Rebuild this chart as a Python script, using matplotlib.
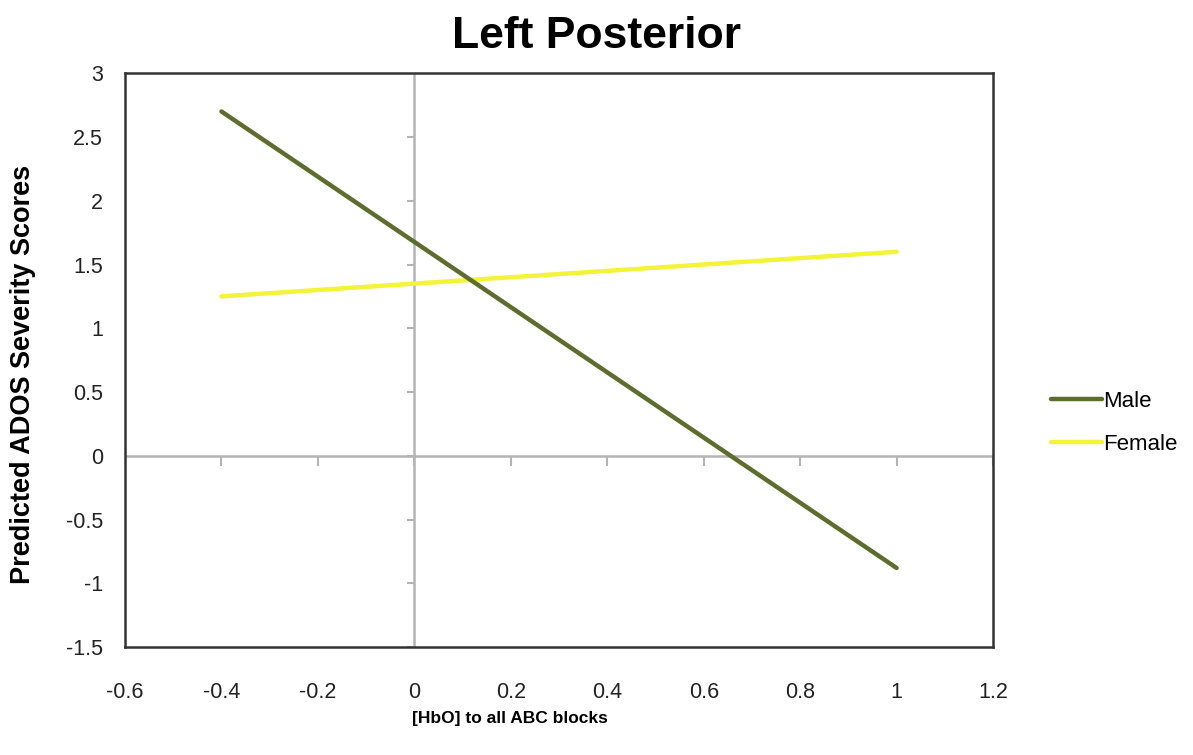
import matplotlib.pyplot as plt

plt.rcParams['font.family'] = ['Liberation Sans', 'DejaVu Sans']

# данные: предсказанные значения по краям диапазона
x_vals = [-0.4, 1.0]
male = [2.70, -0.88]
female = [1.25, 1.60]

x_ticks = [-0.6, -0.4, -0.2, 0, 0.2, 0.4, 0.6, 0.8, 1, 1.2]
x_labels = ['-0.6', '-0.4', '-0.2', '0', '0.2', '0.4', '0.6', '0.8', '1', '1.2']
y_ticks = [-1.5, -1, -0.5, 0, 0.5, 1, 1.5, 2, 2.5, 3]
y_labels = ['-1.5', '-1', '-0.5', '0', '0.5', '1', '1.5', '2', '2.5', '3']

fig = plt.figure(figsize=(11.93, 7.55), dpi=100)
ax = fig.add_axes([0.1048, 0.143, 0.7276, 0.76])

ax.axhline(0, color='#b4b4b4', lw=1.8, zorder=1)
ax.axvline(0, color='#b4b4b4', lw=1.8, zorder=1)
# маленькие засечки на нулевых линиях
ax.plot(x_ticks, [0] * len(x_ticks), ls='none', marker=3, ms=7, color='#b4b4b4', mew=1.5, zorder=1)
ax.plot([0] * len(y_ticks), y_ticks, ls='none', marker=0, ms=5, color='#b4b4b4', mew=1.5, zorder=1)

ax.plot(x_vals, male, color='#5d6d2e', lw=3.2, solid_capstyle='round', label='Male', zorder=3)
ax.plot(x_vals, female, color='#f3f33a', lw=3.2, solid_capstyle='round', label='Female', zorder=2)

ax.set_xlim(-0.6, 1.2)
ax.set_ylim(-1.5, 3)
ax.set_xticks(x_ticks)
ax.set_xticklabels(x_labels)
ax.set_yticks(y_ticks)
ax.set_yticklabels(y_labels)
ax.tick_params(length=0, labelsize=15.5, colors='#222222')
ax.tick_params(axis='x', pad=25)
ax.tick_params(axis='y', pad=16)

for s in ax.spines.values():
    s.set_color('#333333')
    s.set_linewidth(1.8)

fig.text(0.5, 1 - 48 / 755, 'Left Posterior', fontsize=32, fontweight='bold',
         ha='center', va='baseline')
ax.set_xlabel('[HbO] to all ABC blocks', fontsize=12.5, fontweight='bold')
ax.xaxis.set_label_coords(0.4435, -0.112)
ax.set_ylabel('Predicted ADOS Severity Scores', fontsize=19.5, fontweight='bold')
ax.yaxis.set_label_coords(-0.1025, 0.475)

fig.legend(loc='center left', bbox_to_anchor=(0.864, 0.44), frameon=False,
           handlelength=2.3, handletextpad=0.05, fontsize=16, labelspacing=1.0)

plt.savefig('out.png')
